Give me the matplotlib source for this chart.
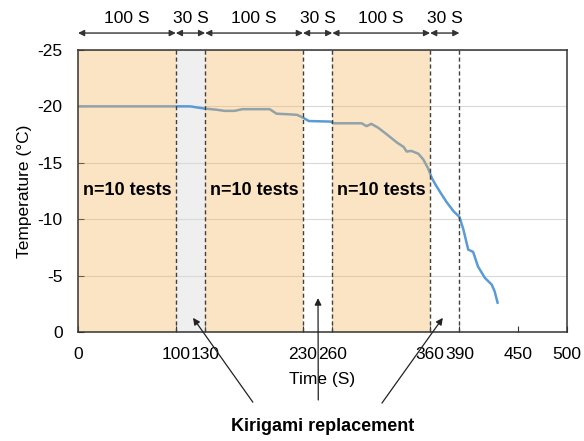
import matplotlib
matplotlib.use("Agg")
import matplotlib.pyplot as plt

plt.rcParams["font.family"] = ["Liberation Sans", "DejaVu Sans"]
plt.rcParams["axes.unicode_minus"] = False

# temperature trace (s, degC)
time_s = [0, 100, 115, 122, 130, 142, 150, 160, 168, 196, 203, 215, 224, 230, 236,
          258, 262, 290, 295, 300, 307, 316, 326, 333, 336, 341, 348, 353, 358, 362,
          366, 371, 377, 384, 390, 394, 399, 404, 409, 416, 423, 426, 429]
temp_c = [-20, -20, -20, -19.9, -19.8, -19.7, -19.6, -19.6, -19.75, -19.75, -19.35,
          -19.3, -19.25, -19.0, -18.7, -18.65, -18.5, -18.5, -18.25, -18.45, -18.1,
          -17.5, -16.8, -16.4, -16.0, -16.05, -15.8, -15.3, -14.5, -13.6, -13.0,
          -12.3, -11.5, -10.7, -10.2, -9.1, -7.3, -7.1, -5.8, -4.8, -4.2, -3.6, -2.6]

# phase boundaries and durations
bounds = [0, 100, 130, 230, 260, 360, 390]
durations = ["100 S", "30 S", "100 S", "30 S", "100 S", "30 S"]
test_spans = [(0, 100), (130, 230), (260, 360)]
test_label = "n=10 tests"
swap_span = (100, 130)
xticks = [0, 100, 130, 230, 260, 360, 390, 450, 500]
yticks = [-25, -20, -15, -10, -5, 0]
swap_points = [(117.6, -1.25), (245.4, -3.0), (373, -1.25)]
swap_tails = [(0.433, 0.088), (0.545, 0.093), (0.654, 0.086)]

fig = plt.figure(figsize=(5.84, 4.41), dpi=100)
ax = fig.add_axes([0.1336, 0.2472, 0.8373, 0.6395])

ax.axvspan(*swap_span, color="#efefef", lw=0, zorder=0.5)
ax.plot(time_s, temp_c, color="#5b9bd5", lw=1.8, zorder=2)
for a, b in test_spans:
    ax.axvspan(a, b, color="#f6b256", alpha=0.35, lw=0, zorder=3)
    ax.text((a + b) / 2, -12.5, test_label, ha="center", va="center",
            fontsize=13, fontweight="bold", zorder=5)
for b in bounds[1:]:
    ax.axvline(b, color="#404040", lw=1, ls=(0, (3, 2)), zorder=4)

ax.set_xlim(0, 500)
ax.set_ylim(0, -25)
ax.set_xticks(xticks)
ax.set_yticks(yticks)
ax.yaxis.grid(True, color="#d9d9d9", lw=0.8, zorder=1)
ax.set_axisbelow(True)
ax.tick_params(direction="in", length=4, labelsize=12.5, color="#333333")
ax.tick_params(axis="x", pad=11)
ax.tick_params(axis="y", pad=11)
for s in ax.spines.values():
    s.set_color("#333333")
    s.set_linewidth(1.1)
    s.set_zorder(6)

ax.set_xlabel("Time (S)", fontsize=12.5, labelpad=7)
ax.set_ylabel("Temperature (°C)", fontsize=12.5, labelpad=4)

# phase durations above the axes
trans = ax.get_xaxis_transform()
for a, b, lab in zip(bounds[:-1], bounds[1:], durations):
    ax.annotate("", xy=(b, 1.06), xytext=(a, 1.06), xycoords=trans, textcoords=trans,
                arrowprops=dict(arrowstyle="<|-|>", color="#333333", lw=1,
                                shrinkA=0, shrinkB=0, mutation_scale=9),
                annotation_clip=False)
    ax.text((a + b) / 2, 1.113, lab, transform=trans, ha="center", va="center",
            fontsize=12.5)

# replacement callouts
for (x, y), tail in zip(swap_points, swap_tails):
    ax.annotate("", xy=(x, y), xytext=tail, textcoords="figure fraction",
                arrowprops=dict(arrowstyle="-|>", color="#222222", lw=0.9,
                                shrinkA=0, shrinkB=0, mutation_scale=10),
                annotation_clip=False, zorder=7)
fig.text(0.553, 0.034, "Kirigami replacement", ha="center", va="center",
         fontsize=13, fontweight="bold")

fig.savefig("out.png", dpi=100)
